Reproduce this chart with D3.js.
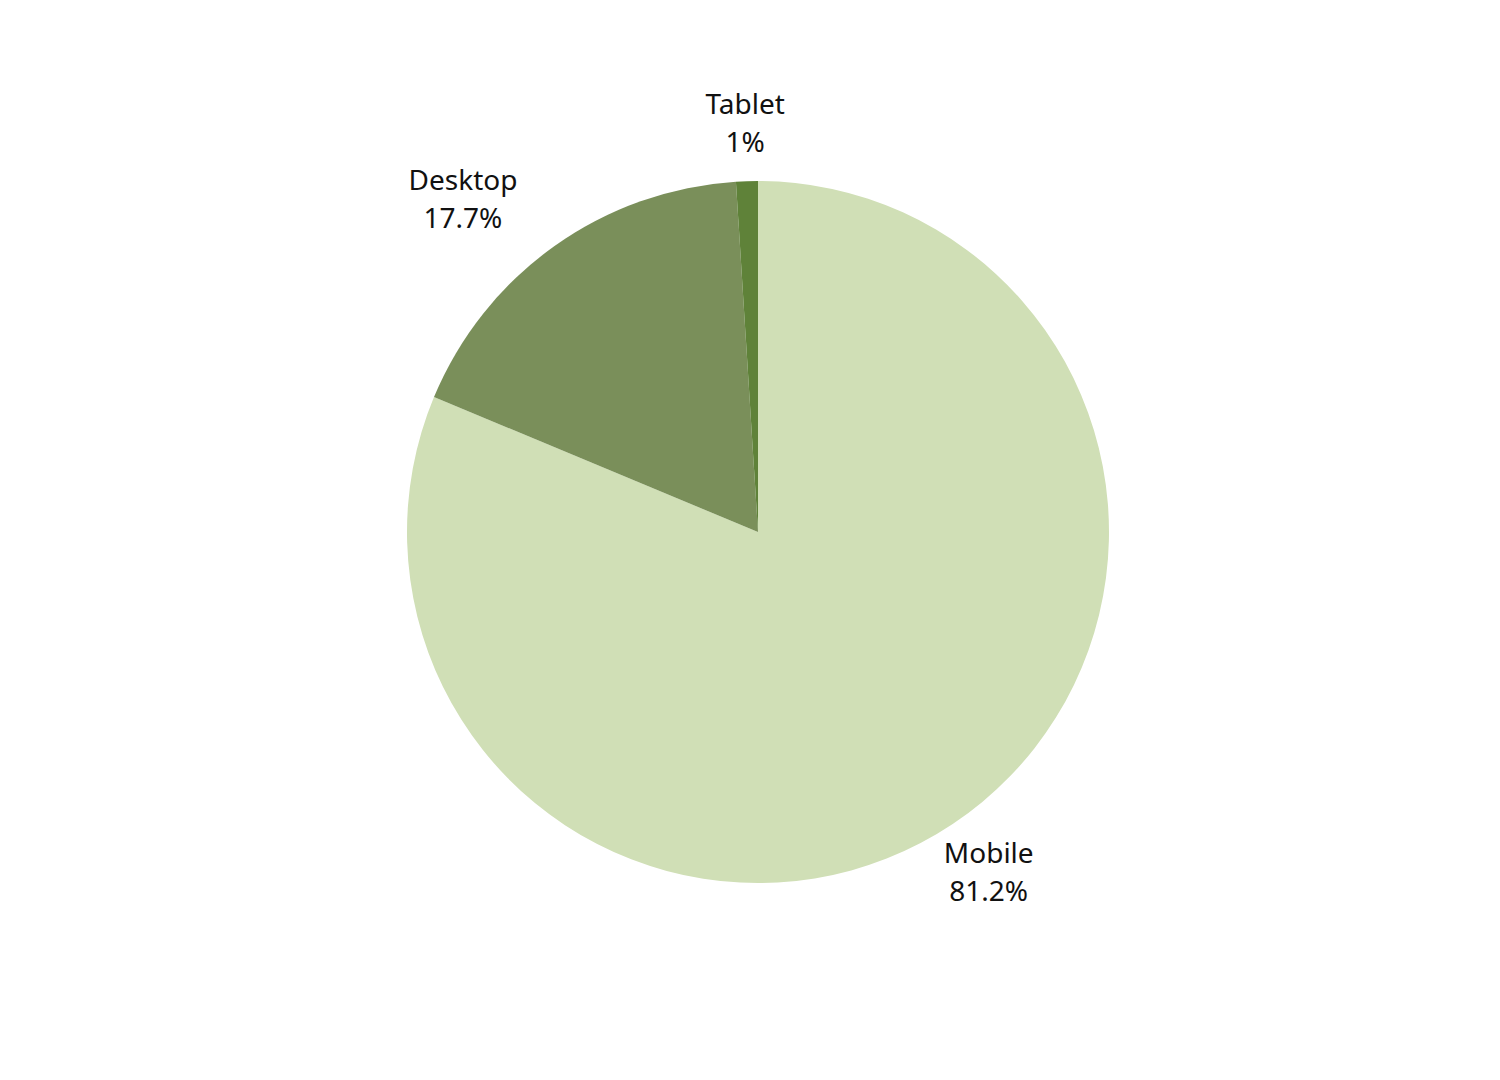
<!DOCTYPE html>
<html>
<head>
<meta charset="utf-8">
<script src="https://cdn.jsdelivr.net/npm/d3@7"></script>
<style>
  body { margin: 0; background: #fff; }
  text { font-family: "Noto Sans", "Open Sans", sans-serif; fill: #111; }
</style>
</head>
<body>
<svg id="chart"></svg>
<script>
// device share, clockwise from 12 o'clock
var devices = ["Mobile", "Desktop", "Tablet"]
var shares = [81.2, 17.7, 1]
var shareLabels = ["81.2%", "17.7%", "1%"]
var sliceColors = ["#d0dfb6", "#7a8f5a", "#5f8239"]

var width = 1500, height = 1080
var cx = 758, cy = 532, radius = 351

var svg = d3.select("#chart")
    .attr("width", width)
    .attr("height", height)

var pieData = d3.pie().sort(null)(shares)

var arc = d3.arc().innerRadius(0).outerRadius(radius)

var g = svg.append("g")
    .attr("transform", "translate(" + cx + "," + cy + ")")

g.selectAll(".slice")
    .data(pieData)
    .enter().append("path")
    .attr("class", "slice")
    .attr("fill", function (d, i) { return sliceColors[i] })
    .attr("d", arc)

/*
Labels sit outside the pie: push a point past the rim along the
mid angle, then shift the text box outwards by its half size.
*/
var fontSize = 28, lineGap = 38, pad = 20
// the upper-left label is pushed a bit further out, like the original
var extraShift = { "Desktop": -48 }

var labels = g.selectAll(".label")
    .data(pieData)
    .enter().append("text")
    .attr("class", "label")
    .attr("text-anchor", "middle")
    .style("font-size", fontSize + "px")

labels.append("tspan")
    .attr("x", 0)
    .attr("dy", -lineGap / 2 + fontSize * 0.36)
    .text(function (d, i) { return devices[i] })
labels.append("tspan")
    .attr("x", 0)
    .attr("dy", lineGap)
    .text(function (d, i) { return shareLabels[i] })

labels.attr("transform", function (d, i) {
    var a = (d.startAngle + d.endAngle) / 2
    var s = Math.sin(a), c = Math.cos(a)
    var box = this.getBBox()
    var hw = box.width / 2, hh = lineGap
    var x = (radius + pad) * s + hw * s + (extraShift[devices[i]] || 0)
    var y = -(radius + pad) * c - hh * c
    return "translate(" + x + "," + y + ")"
})
</script>
</body>
</html>
